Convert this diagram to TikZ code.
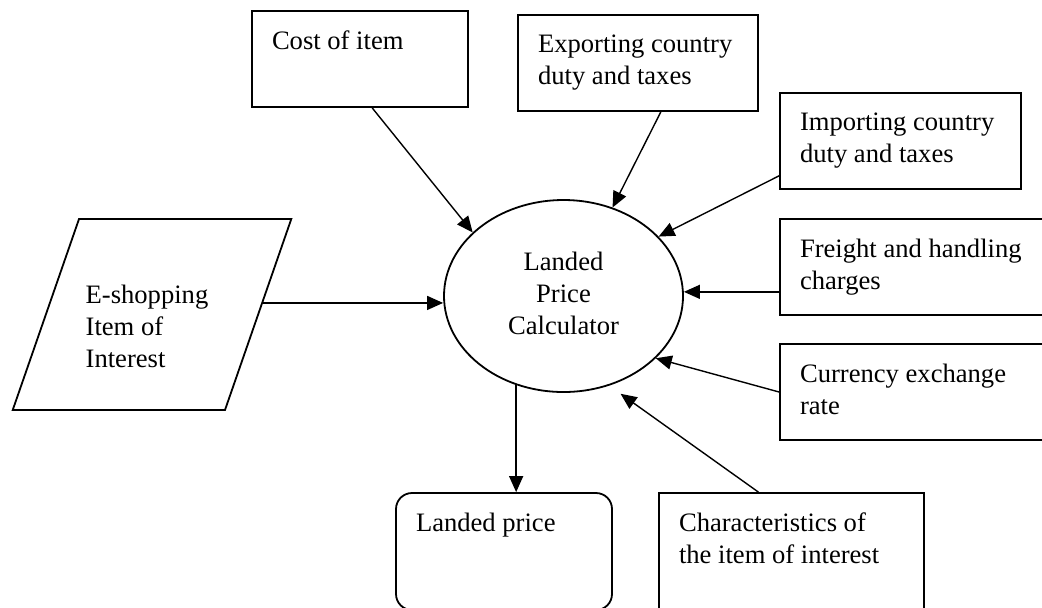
\documentclass[tikz,border=0pt]{standalone}
\usepackage{fontspec}
\setmainfont{Liberation Serif}
\usetikzlibrary{arrows.meta,shapes.geometric,calc}

\newcommand{\boxtext}[3]{\parbox[t][#2][t]{#1}{\raggedright #3}}

\begin{document}
\begin{tikzpicture}[x=0.5pt, y=-0.5pt,
  every node/.style={font=\fontsize{13.3}{16}\selectfont},
  inbox/.style={draw, line width=0.9pt, inner sep=10pt},
  outbox/.style={inbox, rounded corners=8pt},
  arr/.style={-{Triangle[length=8pt,width=7pt]}, line width=0.7pt}]
\path[use as bounding box, clip] (0,0) rectangle (1042,607);
% calculator
\node[draw, ellipse, line width=0.9pt, minimum width=119.5pt, minimum height=96pt, align=center] (calc) at (563.5,296) {Landed\\Price\\Calculator\rule[-3pt]{0pt}{3pt}};
% inputs
\node[draw, trapezium, trapezium left angle=61, trapezium right angle=119, trapezium stretches body=true, line width=0.9pt, minimum width=139pt, minimum height=95.5pt, align=left] (eshop) at (152,314.5) {\rule{0pt}{21pt}E-shopping\kern5pt\\Item of\\Interest};
\node[inbox] (cost) at (360,59) {\boxtext{88pt}{28pt}{Cost of item}};
\node[inbox] (export) at (638,63) {\boxtext{100pt}{28pt}{Exporting country\\duty and taxes}};
\node[inbox] (import) at (900.5,141) {\boxtext{100.5pt}{28pt}{Importing country\\duty and taxes}};
\node[inbox] (freight) at (920,267) {\boxtext{120pt}{28pt}{Freight and handling\\charges}};
\node[inbox] (currency) at (920,392) {\boxtext{120pt}{28pt}{Currency exchange\\rate}};
\node[inbox] (char) at (791.5,563) {\boxtext{112.5pt}{50pt}{Characteristics of\\the item of interest}};
% output
\node[outbox] (lp) at (504,551.5) {\boxtext{88pt}{38.5pt}{Landed price}};
% connectors
\coordinate (eshop out) at ($(eshop.top right corner)!0.44!(eshop.bottom right corner)$);
\draw[arr] (eshop out) -- (eshop out -| calc.west);
\draw[arr] (cost.-76) -- (calc.145.6);
\draw[arr] (export.-65.8) -- (calc.61.4);
\draw[arr] (import.196.2) -- (calc.32.3);
\draw[arr] (freight.190.5) -- (freight.190.5 -| calc.east);
\draw[arr] (currency.west) -- (calc.-34.4);
\draw[arr, shorten >=7pt] (char.115.3) -- (calc.-63);
\draw[arr] (calc.242.3) -- (calc.242.3 |- lp.north);
\end{tikzpicture}
\end{document}
